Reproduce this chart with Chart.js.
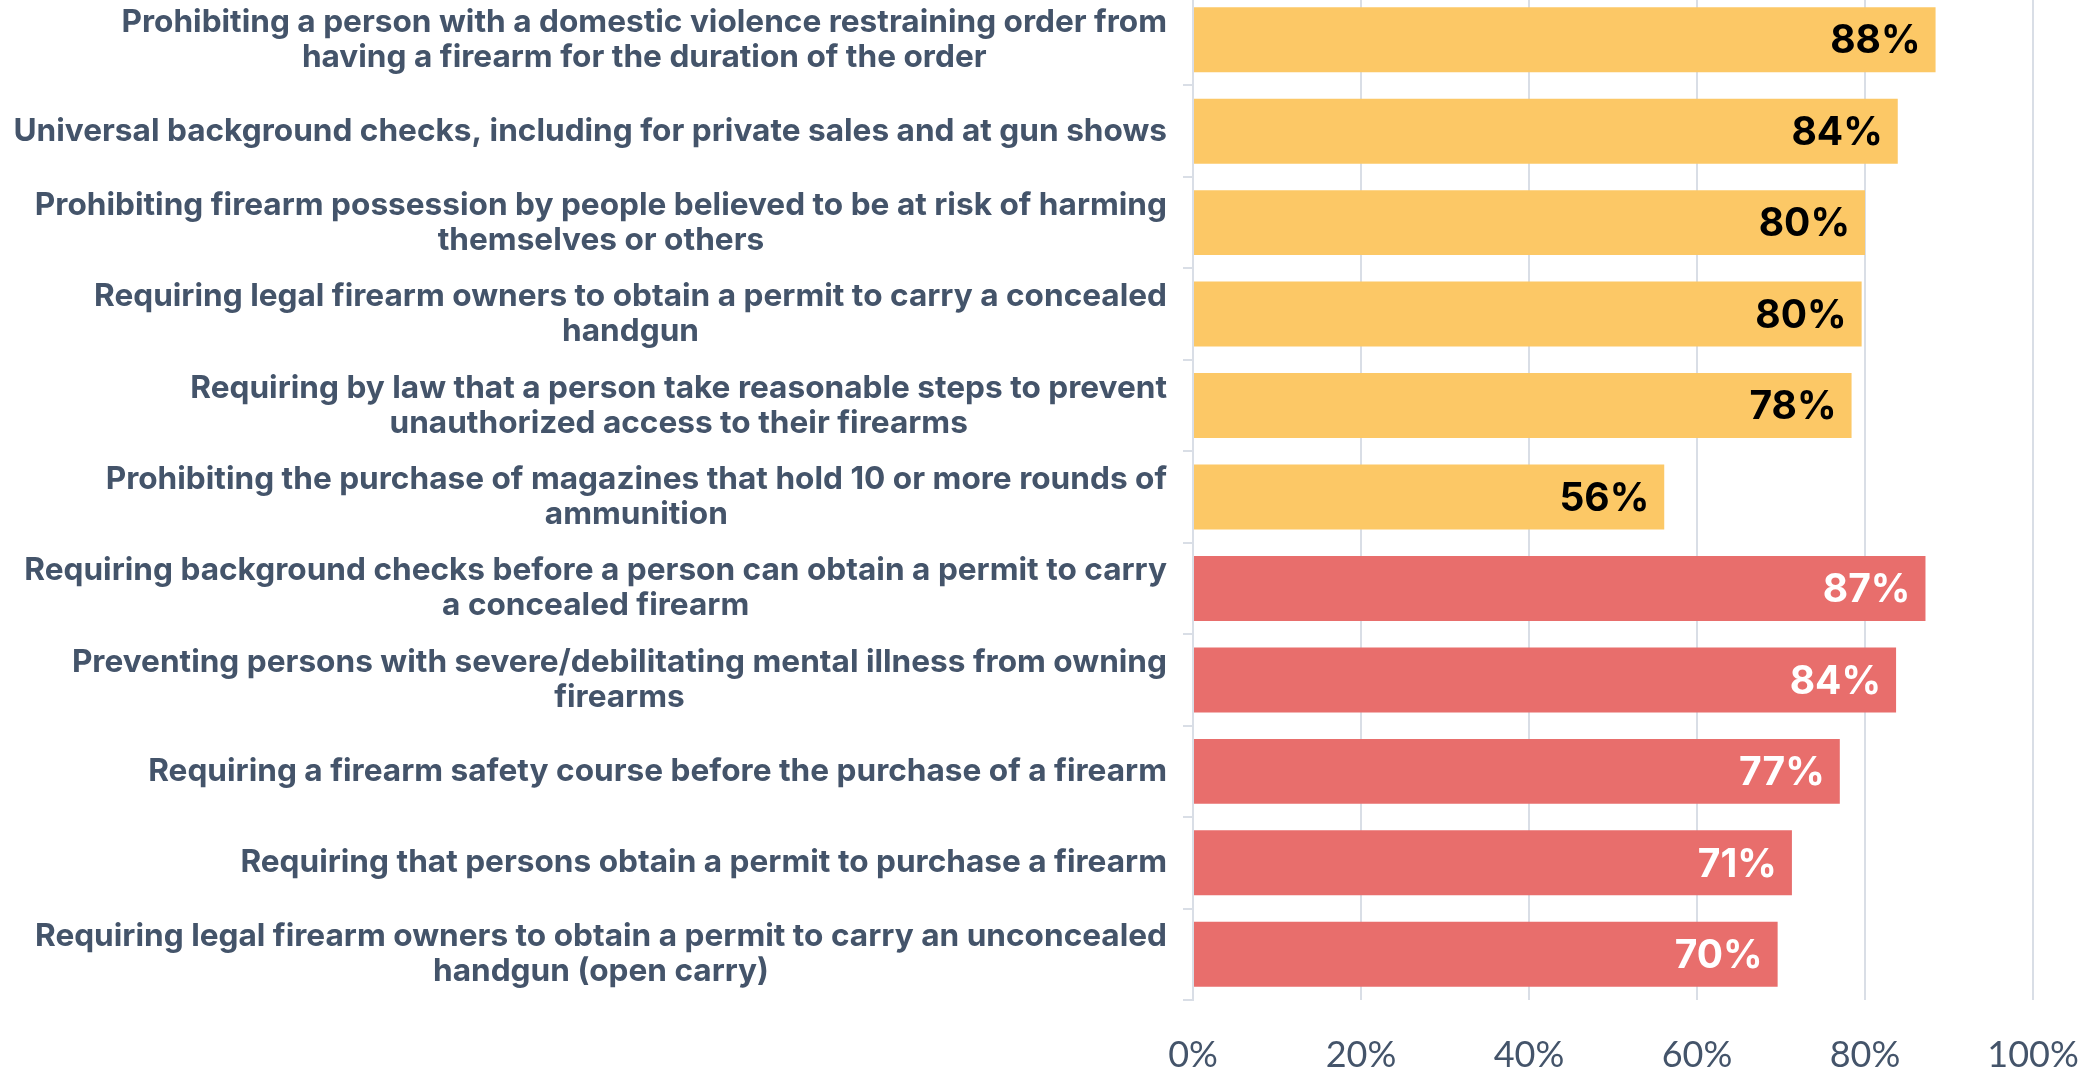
<!DOCTYPE html>
<html>
<head>
<meta charset="utf-8">
<title>Support for firearm policies</title>
<script src="https://cdn.jsdelivr.net/npm/chart.js@4/dist/chart.umd.min.js"></script>
<style>
  html, body { margin: 0; padding: 0; background: #fff; overflow: hidden; }
  #wrap { position: absolute; left: 0; top: -6px; width: 2090px; height: 1080px; }
</style>
</head>
<body>
<div id="wrap"><canvas id="chart"></canvas></div>
<script>
// Policies (multi-line labels as in the original)
const categories = [
    ['Prohibiting a person with a domestic violence restraining order from', 'having a firearm for the duration of the order'],
    'Universal background checks, including for private sales and at gun shows',
    ['Prohibiting firearm possession by people believed to be at risk of harming', 'themselves or others'],
    ['Requiring legal firearm owners to obtain a permit to carry a concealed', 'handgun'],
    ['Requiring by law that a person take reasonable steps to prevent', 'unauthorized access to their firearms'],
    ['Prohibiting the purchase of magazines that hold 10 or more rounds of', 'ammunition'],
    ['Requiring background checks before a person can obtain a permit to carry', 'a concealed firearm'],
    ['Preventing persons with severe/debilitating mental illness from owning', 'firearms'],
    'Requiring a firearm safety course before the purchase of a firearm',
    'Requiring that persons obtain a permit to purchase a firearm',
    ['Requiring legal firearm owners to obtain a permit to carry an unconcealed', 'handgun (open carry)']
];

// Share supporting (%)
const values = [88.4, 83.9, 80.0, 79.6, 78.4, 56.1, 87.2, 83.7, 77.0, 71.3, 69.6];

// Which group each policy belongs to
const groups = ['a', 'a', 'a', 'a', 'a', 'a', 'b', 'b', 'b', 'b', 'b'];

// x axis ticks
const xTicks = [0, 20, 40, 60, 80, 100];

const barColors = { a: '#fcc866', b: '#e86e6c' };
const valueColors = { a: '#000000', b: '#ffffff' };
const textColor = '#44546a';
const lineColor = '#d9dee6';

// Value labels inside the bar ends
const barLabels = {
    id: 'barLabels',
    afterDatasetsDraw(chart) {
        const ctx = chart.ctx;
        const meta = chart.getDatasetMeta(0);
        ctx.save();
        ctx.font = '700 39px Inter';
        ctx.textAlign = 'right';
        ctx.textBaseline = 'middle';
        meta.data.forEach((bar, i) => {
            ctx.fillStyle = valueColors[groups[i]];
            ctx.fillText(Math.round(values[i]) + '%', bar.x - 15, bar.y + 2);
        });
        ctx.restore();
    }
};

// Category labels: block right-aligned, lines centred inside the block
const categoryLabels = {
    id: 'categoryLabels',
    afterDraw(chart) {
        const ctx = chart.ctx;
        const yScale = chart.scales.y;
        const right = chart.chartArea.left - 26;
        const lineHeight = 35;
        ctx.save();
        ctx.font = '700 31.6px Inter';
        ctx.fillStyle = textColor;
        ctx.textAlign = 'center';
        ctx.textBaseline = 'middle';
        categories.forEach((label, i) => {
            const lines = Array.isArray(label) ? label : [label];
            const w = Math.max(...lines.map(l => ctx.measureText(l).width));
            const cx = right - w / 2;
            const cy = yScale.getPixelForValue(i);
            lines.forEach((l, j) => {
                ctx.fillText(l, cx, cy + (j - (lines.length - 1) / 2) * lineHeight);
            });
        });
        ctx.restore();
    }
};

const ctx = document.getElementById('chart').getContext('2d');

new Chart(ctx, {
    type: 'bar',
    data: {
        labels: categories,
        datasets: [{
            data: values,
            backgroundColor: groups.map(g => barColors[g]),
            barPercentage: 0.71,
            categoryPercentage: 1
        }]
    },
    options: {
        indexAxis: 'y',
        responsive: true,
        maintainAspectRatio: false,
        animation: false,
        layout: { padding: { left: 0, right: 57, top: 0, bottom: 0 } },
        plugins: {
            legend: { display: false },
            tooltip: { enabled: false }
        },
        scales: {
            x: {
                min: 0,
                max: 100,
                afterBuildTicks: scale => {
                    scale.ticks = xTicks.map(v => ({ value: v }));
                },
                ticks: {
                    callback: value => value + '%',
                    font: { family: 'Lato', size: 36 },
                    color: textColor,
                    padding: 34
                },
                grid: { color: lineColor, lineWidth: 2, drawTicks: false },
                border: { display: false },
                afterFit: scale => {
                    scale.height = 74;
                    scale.paddingLeft = 0;
                    scale.paddingRight = 0;
                }
            },
            y: {
                ticks: { display: false },
                grid: { drawOnChartArea: false, drawTicks: true, tickLength: 10, color: lineColor, lineWidth: 2 },
                border: { color: lineColor, width: 2 },
                afterFit: scale => {
                    scale.width = 1193;
                }
            }
        }
    },
    plugins: [barLabels, categoryLabels]
});
</script>
</body>
</html>
